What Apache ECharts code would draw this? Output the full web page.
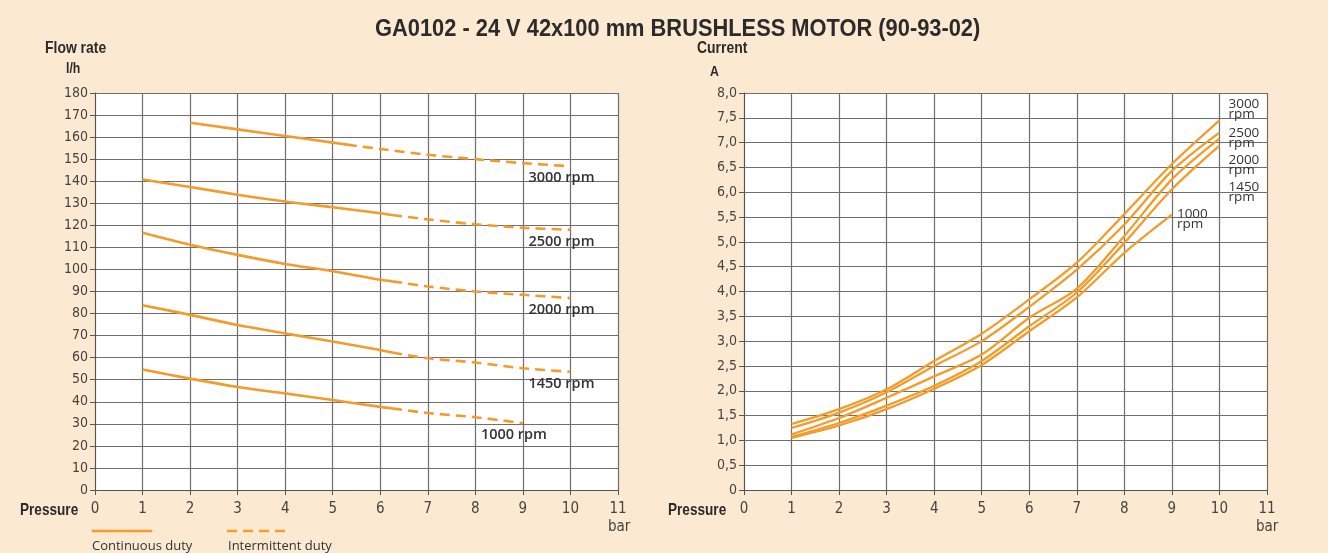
<!DOCTYPE html>
<html>
<head>
<meta charset="utf-8">
<script src="https://cdn.jsdelivr.net/npm/echarts@6/dist/echarts.min.js"></script>
<style>
  html, body { margin: 0; padding: 0; background: #fce9d1; }
  #main { width: 1328px; height: 553px; }
</style>
</head>
<body>
<div id="main"></div>
<script>
// flow rate (l/h) vs pressure (bar) - continuous / intermittent parts
var flowCont3000 = [[2, 166.5], [3, 163.5], [4, 160.5], [5, 157.5], [5.3, 156.6]];
var flowInt3000 = [[5.3, 156.6], [6, 154.6], [7, 152], [8, 150], [9, 148.2], [10, 146.8]];
var flowCont2500 = [[1, 140.8], [2, 137.4], [3, 133.9], [4, 130.8], [5, 128.2], [6, 125.5], [6.25, 124.7]];
var flowInt2500 = [[6.25, 124.7], [7, 122.7], [8, 120.5], [9, 118.9], [10, 118]];
var flowCont2000 = [[1, 116.6], [2, 111.2], [3, 106.6], [4, 102.5], [5, 99.2], [6, 95.3], [6.25, 94.6]];
var flowInt2000 = [[6.25, 94.6], [7, 92.3], [8, 90], [9, 88.5], [10, 87]];
var flowCont1450 = [[1, 83.8], [2, 79.4], [3, 74.8], [4, 71], [5, 67.3], [6, 63.5], [6.25, 62.3]];
var flowInt1450 = [[6.25, 62.3], [7, 59.7], [8, 57.8], [9, 55.2], [10, 53.6]];
var flowCont1000 = [[1, 54.6], [2, 50.5], [3, 46.7], [4, 43.8], [5, 40.8], [6, 37.7], [6.25, 37]];
var flowInt1000 = [[6.25, 37], [7, 34.9], [8, 33], [9, 30.3]];

// current (A) vs pressure (bar)
var currentPressure = [1, 2, 3, 4, 5, 6, 7, 8, 9, 10];
var current3000 = [1.33, 1.63, 2.03, 2.6, 3.15, 3.84, 4.58, 5.56, 6.57, 7.45];
var current2500 = [1.25, 1.56, 1.97, 2.5, 3.0, 3.69, 4.44, 5.35, 6.43, 7.2];
var current2000 = [1.12, 1.45, 1.86, 2.29, 2.73, 3.47, 4.06, 5.12, 6.26, 7.08];
var current1450 = [1.07, 1.35, 1.7, 2.1, 2.6, 3.3, 3.98, 4.98, 6.06, 6.94];
var current1000 = [1.05, 1.3, 1.63, 2.04, 2.52, 3.2, 3.88, 4.78, 5.55];

var speeds = ['3000', '2500', '2000', '1450', '1000'];

var ORANGE = '#f39b2b';
var FONT = '"DejaVu Sans Condensed", sans-serif';
var HEAD = '"Liberation Sans", Arial, sans-serif';

function pairs(xs, ys) {
  return ys.map(function (y, i) { return [xs[i], y]; });
}

var myChart = echarts.init(document.getElementById('main'));

function xAxisOf(gridIndex) {
  return {
    type: 'value', gridIndex: gridIndex, min: 0, max: 11, interval: 1,
    axisLine: { lineStyle: { color: '#555', width: 1 } },
    axisTick: { show: true, length: 5, lineStyle: { color: '#555' } },
    axisLabel: { color: '#444', fontFamily: FONT, fontSize: 15, margin: 12 },
    splitLine: { show: true, lineStyle: { color: '#6e6e6e', width: 1.2 } }
  };
}

function yAxisOf(gridIndex, max, interval, fmt) {
  return {
    type: 'value', gridIndex: gridIndex, min: 0, max: max, interval: interval,
    axisLine: { show: true, lineStyle: { color: '#555', width: 1 } },
    axisTick: { show: true, length: 5, lineStyle: { color: '#555' } },
    axisLabel: { color: '#444', fontFamily: FONT, fontSize: 14, margin: 7, formatter: fmt },
    splitLine: { show: true, lineStyle: { color: '#6e6e6e', width: 1.2 } }
  };
}

var flowCont = [flowCont3000, flowCont2500, flowCont2000, flowCont1450, flowCont1000];
var flowInt = [flowInt3000, flowInt2500, flowInt2000, flowInt1450, flowInt1000];
var currents = [current3000, current2500, current2000, current1450, current1000];
var rightLabelOffsets = [[9, -11], [9, 5], [9, 27], [9, 47], [5, 5]];

var series = [];
speeds.forEach(function (s, i) {
  series.push({
    type: 'line', xAxisIndex: 0, yAxisIndex: 0, data: flowCont[i],
    smooth: 0.3, showSymbol: false, silent: true,
    lineStyle: { color: ORANGE, width: 2.6 }
  });
  series.push({
    type: 'line', xAxisIndex: 0, yAxisIndex: 0, data: flowInt[i],
    smooth: 0.3, showSymbol: false, silent: true,
    lineStyle: { color: ORANGE, width: 2.6, type: [10, 6] },
    endLabel: {
      show: true, formatter: s + ' rpm', distance: 0, align: 'center',
      offset: [-9, 12], color: '#333', fontFamily: 'Open Sans',
      fontWeight: 600, fontSize: 14.5
    }
  });
  series.push({
    type: 'line', xAxisIndex: 1, yAxisIndex: 1, data: pairs(currentPressure, currents[i]),
    smooth: 0.3, showSymbol: false, silent: true,
    lineStyle: { color: ORANGE, width: 2.3 },
    endLabel: {
      show: true, formatter: s + '\nrpm', distance: 0, align: 'left',
      offset: rightLabelOffsets[i], color: '#333', fontFamily: 'Open Sans',
      fontSize: 13.5, lineHeight: 10
    }
  });
});

function headText(x, y, text, size, sx) {
  return {
    type: 'text', x: x, y: y, scaleX: sx,
    style: { text: text, fontFamily: HEAD, fontWeight: 'bold', fontSize: size, fill: '#2b2b2b' }
  };
}

myChart.setOption({
  backgroundColor: '#fce9d1',
  animation: false,
  grid: [
    { left: 95, top: 93, width: 523, height: 397, backgroundColor: '#fff', show: true, borderWidth: 0 },
    { left: 744, top: 93, width: 523, height: 397, backgroundColor: '#fff', show: true, borderWidth: 0 }
  ],
  xAxis: [xAxisOf(0), xAxisOf(1)],
  yAxis: [
    yAxisOf(0, 180, 10),
    yAxisOf(1, 8, 0.5, function (v) { return v === 0 ? '0' : v.toFixed(1).replace('.', ','); })
  ],
  series: series,
  graphic: [
    headText(375, 17, 'GA0102 - 24 V 42x100 mm BRUSHLESS MOTOR (90-93-02)', 24, 0.91),
    headText(45, 40, 'Flow rate', 17, 0.82),
    headText(66, 61, 'l/h', 15, 0.82),
    headText(697, 40, 'Current', 17, 0.82),
    headText(710, 64, 'A', 15, 0.82),
    headText(20, 502, 'Pressure', 17, 0.8),
    headText(668, 502, 'Pressure', 17, 0.8),
    { type: 'text', x: 608, y: 520, style: { text: 'bar', fontFamily: FONT, fontSize: 15, fill: '#444' } },
    { type: 'text', x: 1256, y: 520, style: { text: 'bar', fontFamily: FONT, fontSize: 15, fill: '#444' } },
    { type: 'line', shape: { x1: 92, y1: 531, x2: 152, y2: 531 }, style: { stroke: ORANGE, lineWidth: 2.6 } },
    { type: 'line', shape: { x1: 227, y1: 531, x2: 288, y2: 531 }, style: { stroke: ORANGE, lineWidth: 2.6, lineDash: [10, 6] } },
    { type: 'text', x: 92, y: 540, style: { text: 'Continuous duty', fontFamily: 'Open Sans', fontSize: 13, fill: '#333' } },
    { type: 'text', x: 228, y: 540, style: { text: 'Intermittent duty', fontFamily: 'Open Sans', fontSize: 13, fill: '#333' } }
  ]
});
</script>
</body>
</html>
